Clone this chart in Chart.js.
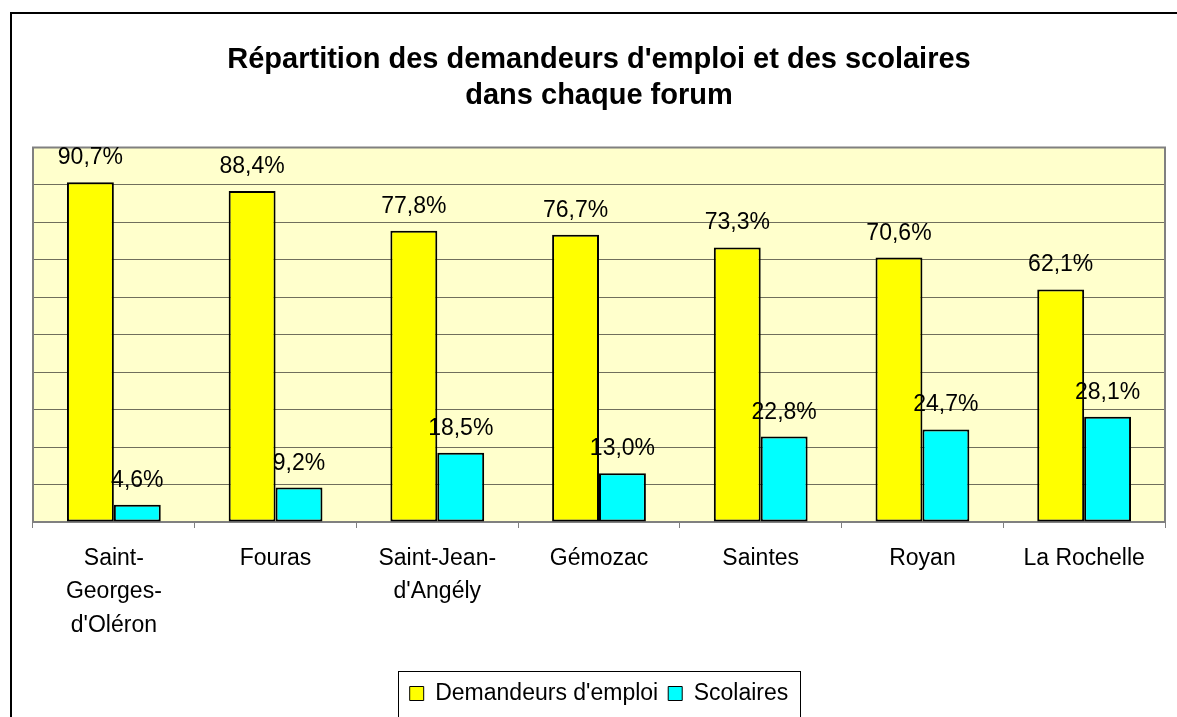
<!DOCTYPE html>
<html>
<head>
<meta charset="utf-8">
<script src="https://cdn.jsdelivr.net/npm/chart.js@4/dist/chart.umd.min.js"></script>
<style>
  body { margin: 0; background: #fff; }
  #chart-wrap { width: 1177px; height: 717px; }
</style>
</head>
<body>
<div id="chart-wrap"><canvas id="forum-chart" width="1177" height="717"></canvas></div>
<script>
const forums = [["Saint-", "Georges-", "d'Oléron"], "Fouras", ["Saint-Jean-", "d'Angély"], "Gémozac", "Saintes", "Royan", "La Rochelle"];
const demandeurs_emploi = [90.7, 88.4, 77.8, 76.7, 73.3, 70.6, 62.1];
const scolaires = [4.6, 9.2, 18.5, 13.0, 22.8, 24.7, 28.1];
const series_names = ["Demandeurs d'emploi", "Scolaires"];
const chart_title = ["Répartition des demandeurs d'emploi et des scolaires", "dans chaque forum"];

const font_family = "'Liberation Sans', Arial, sans-serif";

const ctx = document.getElementById("forum-chart").getContext("2d");

// white page + black frame that runs off the right and bottom edges
const outerFrame = {
  id: "outerFrame",
  beforeDraw(chart) {
    const c = chart.ctx;
    c.save();
    c.fillStyle = "#fff";
    c.fillRect(0, 0, chart.width, chart.height);
    c.strokeStyle = "#000";
    c.lineWidth = 2;
    c.strokeRect(11, 13, 2000, 2000);
    c.restore();
  }
};

// pale yellow plot area with a grey border
const plotBox = {
  id: "plotBox",
  beforeDraw(chart) {
    const a = chart.chartArea;
    const c = chart.ctx;
    c.save();
    c.fillStyle = "#FFFFCC";
    c.fillRect(a.left, a.top, a.right - a.left, a.bottom - a.top);
    c.restore();
  },
  beforeDatasetsDraw(chart) {
    const a = chart.chartArea;
    const c = chart.ctx;
    c.save();
    c.strokeStyle = "#808080";
    c.lineWidth = 2;
    c.beginPath();
    c.moveTo(a.left, a.bottom);
    c.lineTo(a.left, a.top);
    c.lineTo(a.right, a.top);
    c.lineTo(a.right, a.bottom);
    c.stroke();
    c.restore();
  }
};

// percentages above each bar
const valueLabels = {
  id: "valueLabels",
  afterDatasetsDraw(chart) {
    const c = chart.ctx;
    c.save();
    c.font = "23px " + font_family;
    c.fillStyle = "#000";
    c.textAlign = "center";
    c.textBaseline = "alphabetic";
    chart.data.datasets.forEach((ds, i) => {
      chart.getDatasetMeta(i).data.forEach((bar, j) => {
        const txt = ds.data[j].toFixed(1).replace(".", ",") + "%";
        c.fillText(txt, bar.x, bar.y - 18);
      });
    });
    c.restore();
  }
};

// thin box round the legend
const legendBox = {
  id: "legendBox",
  afterDraw(chart) {
    const boxes = chart.legend.legendHitBoxes;
    if (!boxes || !boxes.length) return;
    const first = boxes[0];
    const last = boxes[boxes.length - 1];
    const c = chart.ctx;
    c.save();
    c.strokeStyle = "#000";
    c.lineWidth = 1;
    c.strokeRect(Math.round(first.left - 12) + 0.5, Math.round(first.top - 11) + 0.5,
      Math.round(last.left + last.width - first.left + 23), 200);
    c.restore();
  }
};

const graph = new Chart(ctx, {
  type: "bar",
  data: {
    labels: forums,
    datasets: [
      {
        label: series_names[0],
        data: demandeurs_emploi,
        backgroundColor: "#FFFF00",
        borderColor: "#000",
        borderWidth: 2,
        borderSkipped: false,
        categoryPercentage: 0.58,
        barPercentage: 1.0
      },
      {
        label: series_names[1],
        data: scolaires,
        backgroundColor: "#00FFFF",
        borderColor: "#000",
        borderWidth: 2,
        borderSkipped: false,
        categoryPercentage: 0.58,
        barPercentage: 1.0
      }
    ]
  },
  options: {
    responsive: false,
    animation: false,
    devicePixelRatio: 1,
    layout: { padding: { left: 33, right: 12, top: 0, bottom: 2 } },
    plugins: {
      title: {
        display: true,
        text: chart_title,
        color: "#000",
        font: { family: font_family, size: 29, weight: "bold", lineHeight: 1.25 },
        padding: { top: 42, bottom: 33 }
      },
      legend: {
        position: "bottom",
        labels: {
          color: "#000",
          font: { family: font_family, size: 23 },
          boxWidth: 14,
          boxHeight: 14,
          padding: 10,
          generateLabels(chart) {
            return Chart.defaults.plugins.legend.labels.generateLabels(chart).map(l => {
              l.lineWidth = 1;
              return l;
            });
          }
        }
      },
      tooltip: { enabled: false }
    },
    scales: {
      x: {
        grid: {
          display: true,
          drawOnChartArea: false,
          drawTicks: true,
          tickLength: 6,
          color: "#808080",
          offset: true
        },
        border: { display: true, color: "#808080", width: 2 },
        ticks: {
          color: "#000",
          font: { family: font_family, size: 23, lineHeight: 1.45 },
          padding: 14,
          maxRotation: 0,
          autoSkip: false
        },
        afterFit(scale) {
          scale.height = 150;
        }
      },
      y: {
        min: 0,
        max: 100,
        ticks: { display: false, stepSize: 10 },
        grid: { color: "#706f5c", lineWidth: 1, drawTicks: false },
        border: { display: false }
      }
    }
  },
  plugins: [outerFrame, plotBox, valueLabels, legendBox]
});
</script>
</body>
</html>
